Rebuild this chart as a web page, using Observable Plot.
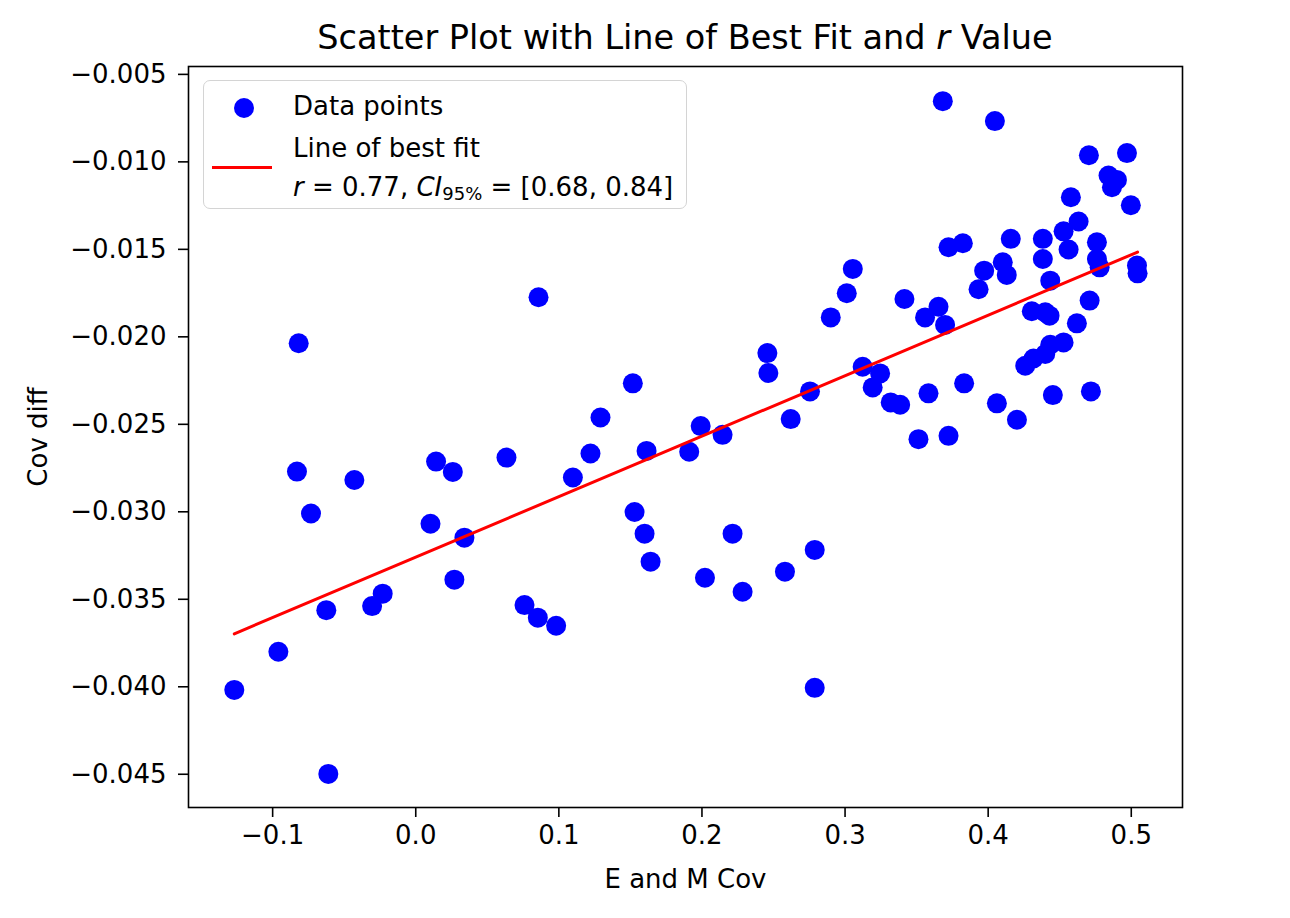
<!DOCTYPE html>
<html>
<head>
<meta charset="utf-8">
<script src="https://cdn.jsdelivr.net/npm/d3@7"></script>
<script src="https://cdn.jsdelivr.net/npm/@observablehq/plot@0.6"></script>
<style>
  html, body { margin: 0; padding: 0; background: white; }
  body { font-family: "DejaVu Sans", sans-serif; color: black; }
  #wrap { position: relative; width: 1290px; height: 918px; overflow: hidden; }
  #title { position: absolute; left: 0; top: 0; width: 1290px; height: 56px; }
  #title span.t { position: absolute; left: 685px; top: 21px; transform: translateX(-50%); white-space: nowrap; font-size: 33.5px; line-height: 1; }
  #chart { position: absolute; left: 0; top: 56px; }
  #legend { position: absolute; left: 203px; top: 80px; width: 484px; height: 129px; box-sizing: border-box;
            border: 1.5px solid #d4d4d4; border-radius: 7px; background: rgba(255,255,255,0.8); font-size: 26px; }
  #legend .row { position: absolute; left: 89px; white-space: nowrap; line-height: 1; }
  #legend .dot { position: absolute; left: 30px; top: 17px; width: 20px; height: 20px; border-radius: 50%; background: #0000ff; }
  #legend .ln { position: absolute; left: 8px; top: 85px; width: 60px; height: 3px; background: #ff0000; }
  i { font-style: italic; }
  sub { font-size: 18px; vertical-align: -4px; line-height: 0; }
</style>
</head>
<body>
<div id="wrap">
  <div id="title"><span class="t">Scatter Plot with Line of Best Fit and <i>r</i> Value</span></div>
  <div id="chart"></div>
  <div id="legend">
    <div class="dot"></div>
    <div class="row" style="top:12px">Data points</div>
    <div class="ln"></div>
    <div class="row" style="top:54px">Line of best fit</div>
    <div class="row" style="top:93px"><i>r</i> = 0.77, <i>CI</i><sub>95%</sub> = [0.68, 0.84]</div>
  </div>
</div>
<script>
// E and M Cov (x) values
const xValues = [
  -0.1268, -0.0960, -0.0611, -0.0625, -0.0818, -0.0830, -0.0732, -0.0429, -0.0305, -0.0231,
  0.0103, 0.0142, 0.0259, 0.0270, 0.0340, 0.0634, 0.0858, 0.0760, 0.0853, 0.0981,
  0.1098, 0.1221, 0.1291, 0.1517, 0.1529, 0.1599, 0.1613, 0.1641, 0.1911, 0.1991,
  0.2144, 0.2214, 0.2021, 0.2284, 0.2457, 0.2464, 0.2580, 0.2620, 0.2755, 0.2788,
  0.2788, 0.2900, 0.3012, 0.3054, 0.3123, 0.3193, 0.3245, 0.3319, 0.3385, 0.3415,
  0.3513, 0.3559, 0.3583, 0.3653, 0.3699, 0.3683, 0.3723, 0.3723, 0.3823, 0.3832,
  0.3933, 0.3972, 0.4047, 0.4061, 0.4102, 0.4130, 0.4158, 0.4201, 0.4259, 0.4317,
  0.4305, 0.4382, 0.4382, 0.4399, 0.4399, 0.4429, 0.4434, 0.4434, 0.4452, 0.4527,
  0.4527, 0.4562, 0.4578, 0.4620, 0.4632, 0.4704, 0.4709, 0.4718, 0.4760, 0.4760,
  0.4779, 0.4841, 0.4865, 0.4900, 0.4970, 0.4997, 0.5040, 0.5044
];
// Cov diff (y) values
const yValues = [
  -0.04018, -0.03800, -0.04498, -0.03562, -0.02037, -0.02770, -0.03010, -0.02818, -0.03539, -0.03468,
  -0.03068, -0.02713, -0.02772, -0.03388, -0.03148, -0.02690, -0.01774, -0.03533, -0.03605, -0.03651,
  -0.02804, -0.02667, -0.02461, -0.02266, -0.03001, -0.03125, -0.02652, -0.03285, -0.02657, -0.02510,
  -0.02560, -0.03125, -0.03377, -0.03457, -0.02093, -0.02207, -0.03342, -0.02470, -0.02312, -0.03218,
  -0.04006, -0.01889, -0.01751, -0.01612, -0.02171, -0.02289, -0.02209, -0.02375, -0.02388, -0.01784,
  -0.02585, -0.01889, -0.02323, -0.01828, -0.01932, -0.00653, -0.01488, -0.02566, -0.01465, -0.02266,
  -0.01728, -0.01622, -0.00767, -0.02380, -0.01574, -0.01646, -0.01440, -0.02474, -0.02165, -0.02124,
  -0.01854, -0.01440, -0.01555, -0.01860, -0.02098, -0.01879, -0.01679, -0.02045, -0.02333, -0.01397,
  -0.02032, -0.01501, -0.01202, -0.01923, -0.01341, -0.00962, -0.01793, -0.02312, -0.01460, -0.01555,
  -0.01603, -0.01078, -0.01145, -0.01103, -0.00950, -0.01248, -0.01593, -0.01637
];
const xTicks = [-0.1, 0.0, 0.1, 0.2, 0.3, 0.4, 0.5];
const yTicks = [-0.045, -0.040, -0.035, -0.030, -0.025, -0.020, -0.015, -0.010, -0.005];

const data = xValues.map((x, i) => ({x, y: yValues[i]}));

const chart = Plot.plot({
  width: 1290,
  height: 862,
  marginLeft: 188,
  marginRight: 108,
  marginTop: 10,
  marginBottom: 111,
  style: {fontFamily: "DejaVu Sans, sans-serif", fontSize: "26px", color: "black", background: "white", overflow: "visible"},
  x: {domain: [-0.1588, 0.5358]},
  y: {domain: [-0.0469, -0.00455]},
  marks: [
    Plot.dot(data, {x: "x", y: "y", r: 10, fill: "#0000ff", stroke: "none"}),
    Plot.linearRegressionY(data, {x: "x", y: "y", stroke: "#ff0000", strokeWidth: 3, ci: 0}),
    Plot.frame({stroke: "black", strokeWidth: 1.6}),
    Plot.axisX({ticks: xTicks, tickFormat: d3.format(".1f"), tickSize: 10, tickPadding: 8, strokeWidth: 1.6,
                label: "E and M Cov", labelAnchor: "center", labelArrow: "none", labelOffset: 80, fontSize: 26}),
    Plot.axisY({ticks: yTicks, tickFormat: d3.format(".3f"), tickSize: 10, tickPadding: 12, strokeWidth: 1.6,
                label: "Cov diff", labelAnchor: "center", labelArrow: "none", labelOffset: 160, fontSize: 26})
  ]
});
document.getElementById("chart").appendChild(chart);
</script>
</body>
</html>
